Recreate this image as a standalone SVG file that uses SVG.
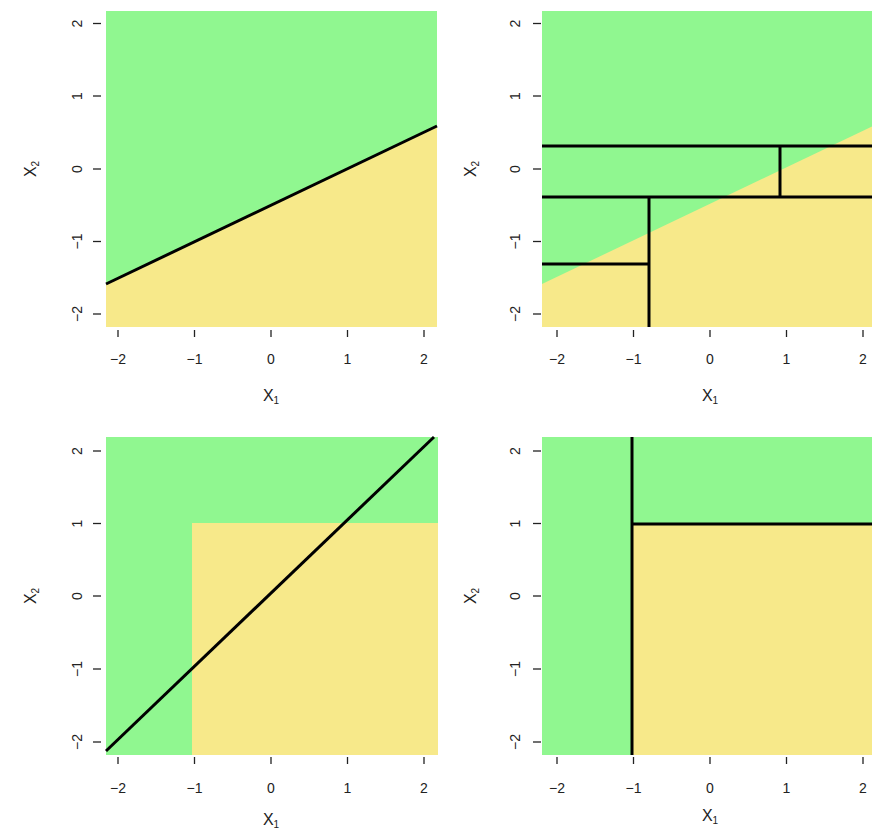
<svg xmlns="http://www.w3.org/2000/svg" width="872" height="833" viewBox="0 0 872 833">
<style>
.g{fill:#90F790}
.y{fill:#F7E98A}
.b{stroke:#000;stroke-width:3;fill:none}
.t{stroke:#222;stroke-width:1.3}
.n{font-family:"Liberation Sans",Arial,sans-serif;font-size:14px;fill:#222;text-anchor:middle}
.l{font-family:"Liberation Sans",Arial,sans-serif;font-size:16px;fill:#222;text-anchor:middle}
.s{font-size:10px}
</style>
<rect width="872" height="833" fill="#fff"/>

<g id="panel-top-left">
<rect class="g" x="106" y="11" width="331" height="316"/>
<polygon class="y" points="106,284 437,126 437,327 106,327"/>
<line class="b" x1="106" y1="284" x2="437" y2="126"/>
<g class="t">
<line x1="118" y1="330" x2="118" y2="337"/><line x1="194.5" y1="330" x2="194.5" y2="337"/><line x1="271" y1="330" x2="271" y2="337"/><line x1="347.5" y1="330" x2="347.5" y2="337"/><line x1="424" y1="330" x2="424" y2="337"/>
<line x1="93" y1="23.5" x2="101" y2="23.5"/><line x1="93" y1="96" x2="101" y2="96"/><line x1="93" y1="169" x2="101" y2="169"/><line x1="93" y1="241.5" x2="101" y2="241.5"/><line x1="93" y1="314" x2="101" y2="314"/>
</g>
<text class="n" x="118" y="364">−2</text><text class="n" x="194.5" y="364">−1</text><text class="n" x="271" y="364">0</text><text class="n" x="347.5" y="364">1</text><text class="n" x="424" y="364">2</text>
<text class="n" transform="translate(82,23.5) rotate(-90)">2</text>
<text class="n" transform="translate(82,96) rotate(-90)">1</text>
<text class="n" transform="translate(82,169) rotate(-90)">0</text>
<text class="n" transform="translate(82,241.5) rotate(-90)">−1</text>
<text class="n" transform="translate(82,314) rotate(-90)">−2</text>
<text class="l" x="271" y="401">X<tspan class="s" dy="3">1</tspan></text>
<text class="l" transform="translate(36,169) rotate(-90)">X<tspan class="s" dy="3">2</tspan></text>
</g>

<g id="panel-top-right">
<rect class="g" x="542" y="11" width="334" height="316"/>
<polygon class="y" points="542,284 876,124.5 876,327 542,327"/>
<g class="b">
<line x1="542" y1="146" x2="876" y2="146"/>
<line x1="542" y1="197" x2="876" y2="197"/>
<line x1="780" y1="146" x2="780" y2="197"/>
<line x1="649" y1="197" x2="649" y2="327"/>
<line x1="542" y1="264" x2="649" y2="264"/>
</g>
<g class="t">
<line x1="557" y1="330" x2="557" y2="337"/><line x1="633.5" y1="330" x2="633.5" y2="337"/><line x1="710" y1="330" x2="710" y2="337"/><line x1="786.5" y1="330" x2="786.5" y2="337"/><line x1="863" y1="330" x2="863" y2="337"/>
<line x1="533" y1="23.5" x2="541" y2="23.5"/><line x1="533" y1="96" x2="541" y2="96"/><line x1="533" y1="169" x2="541" y2="169"/><line x1="533" y1="241.5" x2="541" y2="241.5"/><line x1="533" y1="314" x2="541" y2="314"/>
</g>
<text class="n" x="557" y="364">−2</text><text class="n" x="633.5" y="364">−1</text><text class="n" x="710" y="364">0</text><text class="n" x="786.5" y="364">1</text><text class="n" x="863" y="364">2</text>
<text class="n" transform="translate(520,23.5) rotate(-90)">2</text>
<text class="n" transform="translate(520,96) rotate(-90)">1</text>
<text class="n" transform="translate(520,169) rotate(-90)">0</text>
<text class="n" transform="translate(520,241.5) rotate(-90)">−1</text>
<text class="n" transform="translate(520,314) rotate(-90)">−2</text>
<text class="l" x="710" y="401">X<tspan class="s" dy="3">1</tspan></text>
<text class="l" transform="translate(476,169) rotate(-90)">X<tspan class="s" dy="3">2</tspan></text>
</g>

<g id="panel-bottom-left">
<rect class="g" x="106" y="437" width="332" height="318"/>
<rect class="y" x="192" y="523" width="246" height="232"/>
<line class="b" x1="106" y1="751" x2="434" y2="437"/>
<g class="t">
<line x1="118" y1="757" x2="118" y2="764"/><line x1="194.5" y1="757" x2="194.5" y2="764"/><line x1="271" y1="757" x2="271" y2="764"/><line x1="347.5" y1="757" x2="347.5" y2="764"/><line x1="424" y1="757" x2="424" y2="764"/>
<line x1="93" y1="451" x2="101" y2="451"/><line x1="93" y1="523.5" x2="101" y2="523.5"/><line x1="93" y1="596" x2="101" y2="596"/><line x1="93" y1="669" x2="101" y2="669"/><line x1="93" y1="742" x2="101" y2="742"/>
</g>
<text class="n" x="118" y="793">−2</text><text class="n" x="194.5" y="793">−1</text><text class="n" x="271" y="793">0</text><text class="n" x="347.5" y="793">1</text><text class="n" x="424" y="793">2</text>
<text class="n" transform="translate(82,451) rotate(-90)">2</text>
<text class="n" transform="translate(82,523.5) rotate(-90)">1</text>
<text class="n" transform="translate(82,596) rotate(-90)">0</text>
<text class="n" transform="translate(82,669) rotate(-90)">−1</text>
<text class="n" transform="translate(82,742) rotate(-90)">−2</text>
<text class="l" x="271" y="825">X<tspan class="s" dy="3">1</tspan></text>
<text class="l" transform="translate(36,596) rotate(-90)">X<tspan class="s" dy="3">2</tspan></text>
</g>

<g id="panel-bottom-right">
<rect class="g" x="542" y="437" width="334" height="318"/>
<rect class="y" x="632" y="524" width="244" height="231"/>
<g class="b">
<line x1="632" y1="437" x2="632" y2="755"/>
<line x1="632" y1="524" x2="876" y2="524"/>
</g>
<g class="t">
<line x1="557" y1="757" x2="557" y2="764"/><line x1="633.5" y1="757" x2="633.5" y2="764"/><line x1="710" y1="757" x2="710" y2="764"/><line x1="786.5" y1="757" x2="786.5" y2="764"/><line x1="863" y1="757" x2="863" y2="764"/>
<line x1="533" y1="451" x2="541" y2="451"/><line x1="533" y1="523.5" x2="541" y2="523.5"/><line x1="533" y1="596" x2="541" y2="596"/><line x1="533" y1="669" x2="541" y2="669"/><line x1="533" y1="742" x2="541" y2="742"/>
</g>
<text class="n" x="557" y="793">−2</text><text class="n" x="633.5" y="793">−1</text><text class="n" x="710" y="793">0</text><text class="n" x="786.5" y="793">1</text><text class="n" x="863" y="793">2</text>
<text class="n" transform="translate(520,451) rotate(-90)">2</text>
<text class="n" transform="translate(520,523.5) rotate(-90)">1</text>
<text class="n" transform="translate(520,596) rotate(-90)">0</text>
<text class="n" transform="translate(520,669) rotate(-90)">−1</text>
<text class="n" transform="translate(520,742) rotate(-90)">−2</text>
<text class="l" x="710" y="821">X<tspan class="s" dy="3">1</tspan></text>
<text class="l" transform="translate(476,596) rotate(-90)">X<tspan class="s" dy="3">2</tspan></text>
</g>
</svg>
